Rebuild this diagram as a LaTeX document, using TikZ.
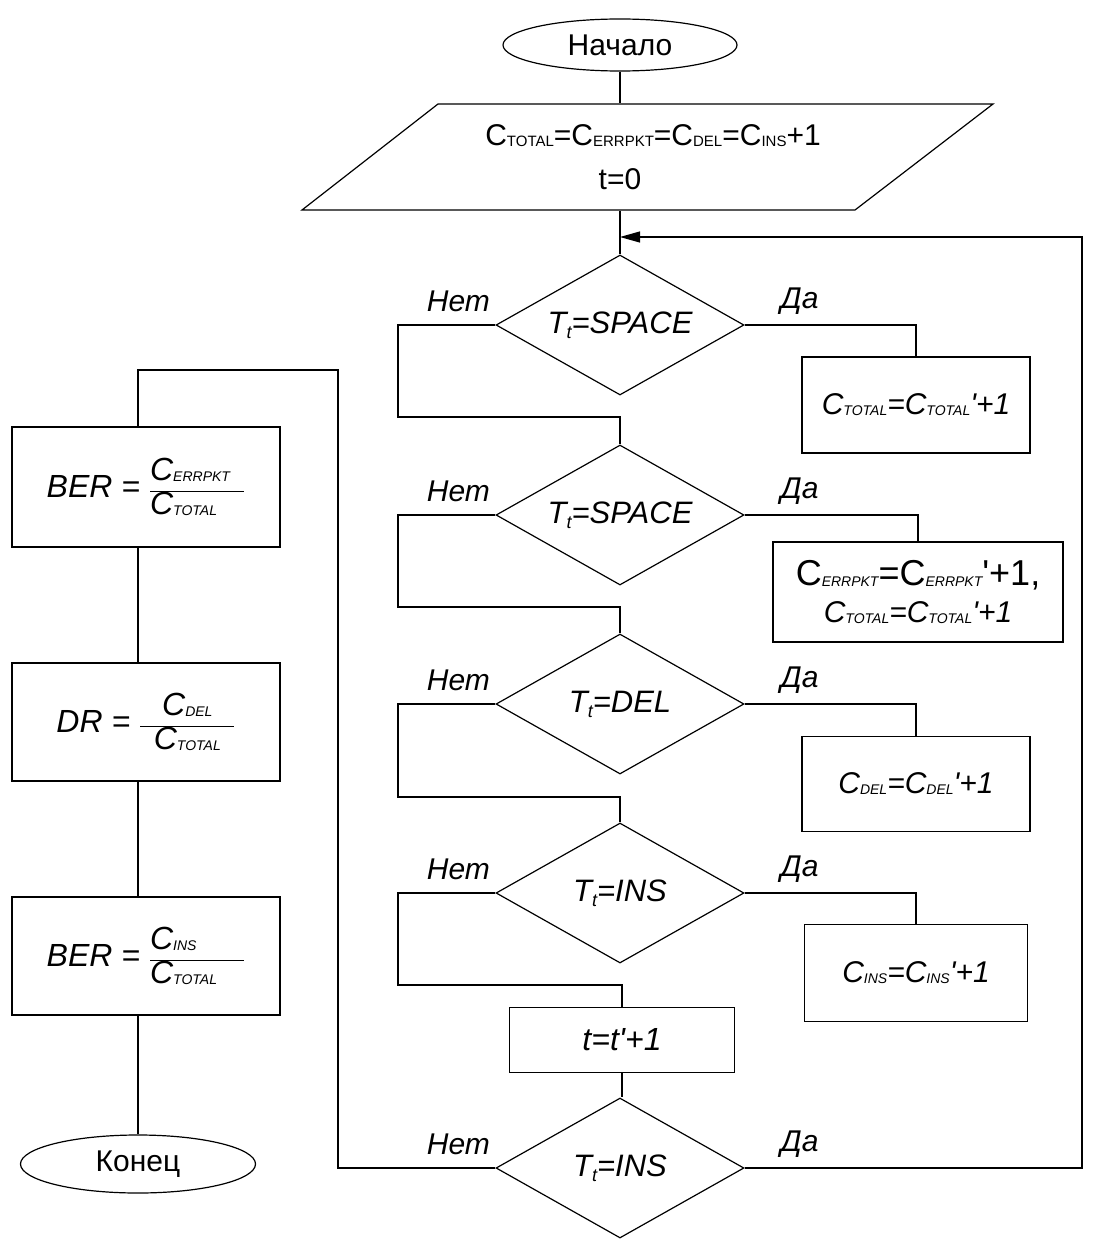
\documentclass[tikz,border=0pt]{standalone}
\usepackage{fontspec}
\setmainfont{Liberation Sans}[Ligatures=TeXOff]
\usetikzlibrary{shapes.geometric,arrows.meta}
\newcommand{\sub}[1]{\raisebox{-1pt}{\fontsize{14}{14}\selectfont #1}}
\newcommand{\bsub}[1]{\raisebox{-1pt}{\fontsize{15}{15}\selectfont #1}}
\newcommand{\fr}[3][l]{$\displaystyle\frac{\hbox{\makebox[94pt][#1]{#2}}}{\hbox{\makebox[94pt][#1]{#3}}}$}
\begin{document}
\begin{tikzpicture}[x=1pt,y=-1pt,line width=1.2pt,
  term/.style={ellipse,draw,minimum width=234pt,minimum height=52pt,inner sep=0pt,font=\fontsize{30}{36}\selectfont},
  dec/.style={diamond,draw,aspect=1.77,minimum width=248pt,minimum height=140pt,inner sep=0pt,font=\fontsize{31}{36}\selectfont\itshape},
  proc/.style={rectangle,draw,inner sep=0pt,font=\fontsize{30}{34}\selectfont\itshape,align=center},
  form/.style={rectangle,draw,inner sep=0pt,font=\fontsize{32}{36}\selectfont\itshape,align=center},
  lbl/.style={font=\fontsize{30}{36}\selectfont\itshape,inner sep=0pt}]
\useasboundingbox (0,0) rectangle (1096,1239);
% main column
\node[term] (start) at (620,45) {Начало};
\draw (438,104) -- (993,104) -- (855,210) -- (302,210) -- cycle;
\node[align=center,font=\fontsize{30}{44}\selectfont,inner sep=0pt,minimum height=106pt] (init) at (620,157) {\hbox to 0pt{\hss\hspace{66pt}C\bsub{TOTAL}=C\bsub{ERRPKT}=C\bsub{DEL}=C\bsub{INS}+1\hss}\\t=0};
\node[dec] (D1) at (620,325) {T\raisebox{-5pt}{\fontsize{18}{18}\selectfont t}=SPACE};
\node[dec] (D2) at (620,515) {T\raisebox{-5pt}{\fontsize{18}{18}\selectfont t}=SPACE};
\node[dec] (D3) at (620,704) {T\raisebox{-5pt}{\fontsize{18}{18}\selectfont t}=DEL};
\node[dec] (D4) at (620,893) {T\raisebox{-5pt}{\fontsize{18}{18}\selectfont t}=INS};
\node[proc,minimum width=225pt,minimum height=65pt,font=\fontsize{32}{36}\selectfont\itshape] (T) at (622,1040) {t=t'+1};
\node[dec] (D5) at (620,1168) {T\raisebox{-5pt}{\fontsize{18}{18}\selectfont t}=INS};
% right boxes
\node[proc,minimum width=228pt,minimum height=96pt] (R1) at (916,405) {C\sub{TOTAL}=C\sub{TOTAL}'+1};
\node[proc,minimum width=290pt,minimum height=100pt] (R2) at (918,592) {{\upshape\fontsize{36}{40}\selectfont C\sub{\itshape ERRPKT}=C\sub{\itshape ERRPKT}'+1,}\\[3pt]C\sub{TOTAL}=C\sub{TOTAL}'+1};
\node[proc,minimum width=228pt,minimum height=95pt] (R3) at (916,784) {C\sub{DEL}=C\sub{DEL}'+1};
\node[proc,minimum width=223pt,minimum height=97pt] (R4) at (916,973) {C\sub{INS}=C\sub{INS}'+1};
% left column
\node[form,minimum width=268pt,minimum height=120pt] (L1) at (146,487) {BER = \fr{C\sub{ERRPKT}}{C\sub{TOTAL}}};
\node[form,minimum width=268pt,minimum height=118pt] (L2) at (146,722) {DR = \fr[c]{C\sub{DEL}}{C\sub{TOTAL}}};
\node[form,minimum width=268pt,minimum height=118pt] (L3) at (146,956) {BER = \fr{C\sub{INS}}{C\sub{TOTAL}}};
\node[term,minimum width=235pt,minimum height=58pt] (end) at (138,1164) {Конец};
% helper coordinates
\coordinate (j) at (620,237);
\coordinate (rx) at (1082,0);
\coordinate (nx) at (398,0);
\coordinate (m1) at (620,417);
\coordinate (m2) at (620,607);
\coordinate (m3) at (620,797);
\coordinate (m4) at (620,985);
\coordinate (lx) at (338,0);
\coordinate (ltop) at (138,370);
% connectors
\draw (start.south) -- (start.south |- init.north);
\draw (start.south |- init.south) -- (D1.north);
\draw[-{Triangle[length=20pt,width=11pt]}] (D5.east) -- (D5.east -| rx) -- (rx |- j) -- (j);
\draw (D1.west) -- (D1.west -| nx) -- (nx |- m1) -- (m1) -- (D2.north);
\draw (D2.west) -- (D2.west -| nx) -- (nx |- m2) -- (m2) -- (D3.north);
\draw (D3.west) -- (D3.west -| nx) -- (nx |- m3) -- (m3) -- (D4.north);
\draw (D4.west) -- (D4.west -| nx) -- (nx |- m4) -- (m4 -| T.north) -- (T.north);
\draw (T.south) -- (T.south |- D5.north);
\draw (D1.east) -- (D1.east -| R1.north) -- (R1.north);
\draw (D2.east) -- (D2.east -| R2.north) -- (R2.north);
\draw (D3.east) -- (D3.east -| R3.north) -- (R3.north);
\draw (D4.east) -- (D4.east -| R4.north) -- (R4.north);
\draw (D5.west) -- (D5.west -| lx) -- (lx |- ltop) -- (ltop) -- (ltop |- L1.north);
\draw (ltop |- L1.south) -- (ltop |- L2.north);
\draw (ltop |- L2.south) -- (ltop |- L3.north);
\draw (ltop |- L3.south) -- (end.north);
% labels
\foreach \d in {D1,D2,D3,D4,D5}{
  \node[lbl] at ([shift={(-37,-24)}]\d.west) {Нет};
  \node[lbl] at ([shift={(55,-24)}]\d.east) {Да};
}
\end{tikzpicture}
\end{document}
